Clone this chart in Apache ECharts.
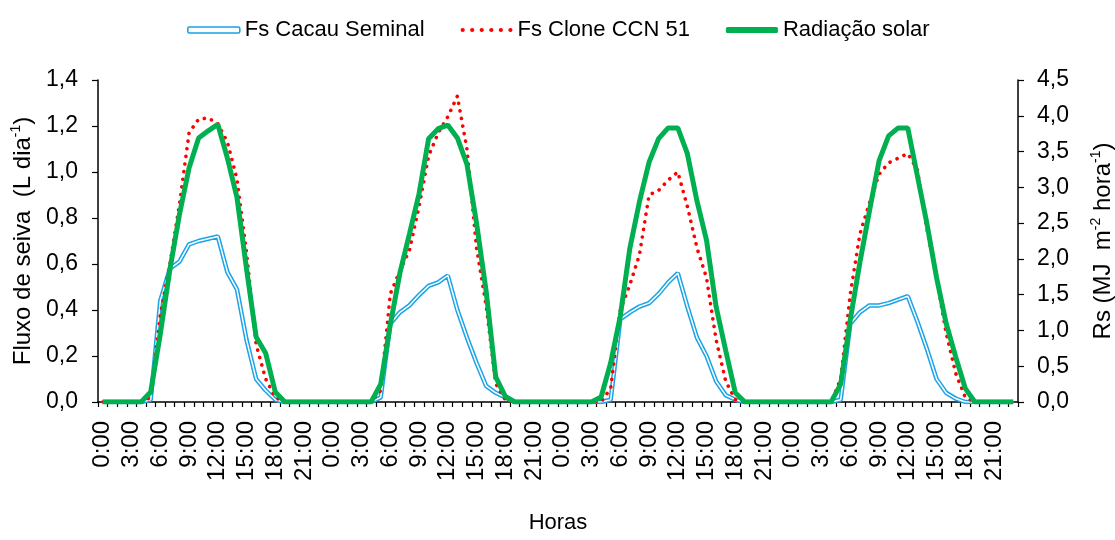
<!DOCTYPE html>
<html>
<head>
<meta charset="utf-8">
<title>Fluxo de seiva e radiação solar</title>
<script src="https://cdn.jsdelivr.net/npm/echarts@6/dist/echarts.min.js"></script>
<style>
  html, body { margin: 0; padding: 0; background: #fff; }
  #grafico { width: 1115px; height: 540px; }
</style>
</head>
<body>
<div id="grafico"></div>
<script>
// Horas do dia (rótulos do eixo X), repetidas para os 4 dias
var horasDia = ['0:00', '1:00', '2:00', '3:00', '4:00', '5:00', '6:00', '7:00',
  '8:00', '9:00', '10:00', '11:00', '12:00', '13:00', '14:00', '15:00',
  '16:00', '17:00', '18:00', '19:00', '20:00', '21:00', '22:00', '23:00'];
var categorias = horasDia.concat(horasDia, horasDia, horasDia);

// Fs Cacau Seminal (L dia-1) — eixo esquerdo
var fsSeminal = [
  0, 0, 0, 0, 0, 0.01, 0.44, 0.58, 0.61, 0.685, 0.70, 0.71, 0.72, 0.565, 0.49, 0.27, 0.10, 0.05, 0.01, 0, 0, 0, 0, 0,
  0, 0, 0, 0, 0, 0.02, 0.34, 0.39, 0.42, 0.465, 0.505, 0.52, 0.55, 0.40, 0.28, 0.17, 0.07, 0.04, 0.02, 0, 0, 0, 0, 0,
  0, 0, 0, 0, 0, 0.01, 0.36, 0.39, 0.415, 0.43, 0.47, 0.52, 0.56, 0.415, 0.28, 0.20, 0.09, 0.03, 0.01, 0, 0, 0, 0, 0,
  0, 0, 0, 0, 0, 0.01, 0.34, 0.39, 0.42, 0.42, 0.43, 0.445, 0.46, 0.35, 0.23, 0.10, 0.04, 0.015, 0, 0, 0, 0, 0, 0
];

// Fs Clone CCN 51 (L dia-1) — eixo esquerdo
var fsClone = [
  0, 0, 0, 0, 0, 0.02, 0.38, 0.60, 0.86, 1.17, 1.23, 1.235, 1.21, 1.13, 0.97, 0.65, 0.25, 0.10, 0.02, 0, 0, 0, 0, 0,
  0, 0, 0, 0, 0, 0.05, 0.47, 0.57, 0.66, 0.85, 1.07, 1.17, 1.24, 1.33, 1.10, 0.67, 0.42, 0.08, 0.01, 0, 0, 0, 0, 0,
  0, 0, 0, 0, 0, 0.06, 0.40, 0.51, 0.64, 0.90, 0.92, 0.965, 1.00, 0.85, 0.67, 0.54, 0.27, 0.09, 0.01, 0, 0, 0, 0, 0,
  0, 0, 0, 0, 0, 0.10, 0.47, 0.73, 0.865, 0.99, 1.04, 1.06, 1.08, 1.01, 0.75, 0.54, 0.30, 0.125, 0.02, 0, 0, 0, 0, 0
];

// Radiação solar Rs (MJ m-2 hora-1) — eixo direito
var radiacao = [
  0, 0, 0, 0, 0, 0.14, 0.95, 1.85, 2.62, 3.27, 3.69, 3.79, 3.88, 3.41, 2.86, 1.86, 0.91, 0.68, 0.14, 0, 0, 0, 0, 0,
  0, 0, 0, 0, 0, 0.25, 1.08, 1.80, 2.35, 2.91, 3.68, 3.82, 3.87, 3.69, 3.32, 2.50, 1.55, 0.35, 0.08, 0, 0, 0, 0, 0,
  0, 0, 0, 0, 0.07, 0.55, 1.20, 2.15, 2.80, 3.35, 3.68, 3.83, 3.83, 3.47, 2.81, 2.26, 1.33, 0.72, 0.13, 0, 0, 0, 0, 0,
  0, 0, 0, 0, 0, 0.25, 1.15, 1.95, 2.67, 3.37, 3.72, 3.83, 3.83, 3.16, 2.49, 1.74, 1.10, 0.63, 0.19, 0, 0, 0, 0, 0
];

var AZUL = '#1aa3e6';
var VERMELHO = '#ff0000';
var VERDE = '#00b050';
var FONTE = '"Liberation Sans", Arial, sans-serif';

// ícone pontilhado da legenda (6 pontos)
var ICONE_PONTOS = 'path://M0.5,3a2,2 0 1,0 4,0a2,2 0 1,0 -4,0z' +
  'M9.5,3a2,2 0 1,0 4,0a2,2 0 1,0 -4,0z' +
  'M18.5,3a2,2 0 1,0 4,0a2,2 0 1,0 -4,0z' +
  'M27.5,3a2,2 0 1,0 4,0a2,2 0 1,0 -4,0z' +
  'M36.5,3a2,2 0 1,0 4,0a2,2 0 1,0 -4,0z' +
  'M45.5,3a2,2 0 1,0 4,0a2,2 0 1,0 -4,0z';

// rótulos com vírgula decimal
function virgula(v) {
  return v.toFixed(1).replace('.', ',');
}

var richNome = {
  a: { fontFamily: FONTE, fontSize: 24, color: '#000', lineHeight: 28 },
  s: { fontFamily: FONTE, fontSize: 14, color: '#000', verticalAlign: 'top', lineHeight: 28 }
};

var chart = echarts.init(document.getElementById('grafico'), null, { renderer: 'canvas' });

var option = {
  animation: false,
  backgroundColor: '#fff',
  grid: { left: 98, right: 97, top: 80, bottom: 138, containLabel: false, outerBoundsMode: 'none' },
  legend: {
    left: 182,
    top: 14,
    itemWidth: 52,
    itemHeight: 6,
    itemGap: 36,
    textStyle: { fontFamily: FONTE, fontSize: 22, color: '#000' },
    data: [
      { name: 'Fs Cacau Seminal', icon: 'roundRect',
        itemStyle: { color: '#fff', borderColor: AZUL, borderWidth: 1.6 } },
      { name: 'Fs Clone CCN 51', icon: ICONE_PONTOS,
        itemStyle: { color: VERMELHO, borderWidth: 0 } },
      { name: 'Radiação solar', icon: 'roundRect',
        itemStyle: { color: VERDE, borderWidth: 0 } }
    ]
  },
  xAxis: {
    type: 'category',
    data: categorias,
    boundaryGap: true,
    name: 'Horas',
    nameLocation: 'middle',
    nameGap: 110,
    nameTextStyle: { fontFamily: FONTE, fontSize: 22, color: '#000' },
    axisLine: { lineStyle: { color: '#000', width: 1.5 } },
    axisTick: { show: true, interval: 0, length: 5, lineStyle: { color: '#000', width: 1.2 } },
    axisLabel: {
      interval: 2,
      rotate: 90,
      margin: 19,
      fontFamily: FONTE,
      fontSize: 24,
      color: '#000'
    },
    splitLine: { show: false }
  },
  yAxis: [
    {
      type: 'value',
      min: 0,
      max: 1.4,
      interval: 0.2,
      position: 'left',
      name: '{a|Fluxo de seiva  (L dia}{s|-1}{a|)}',
      nameLocation: 'middle',
      nameGap: 60,
      nameRotate: 90,
      nameTextStyle: { rich: richNome },
      axisLine: { show: true, lineStyle: { color: '#000', width: 1.5 } },
      axisTick: { show: true, length: 6, lineStyle: { color: '#000', width: 1.2 } },
      axisLabel: {
        margin: 20,
        fontFamily: FONTE,
        fontSize: 23,
        color: '#000',
        formatter: virgula
      },
      splitLine: { show: false }
    },
    {
      type: 'value',
      min: 0,
      max: 4.5,
      interval: 0.5,
      position: 'right',
      name: '{a|Rs (MJ  m}{s|-2}{a| hora}{s|-1}{a|)}',
      nameLocation: 'middle',
      nameGap: 71,
      nameRotate: 90,
      nameTextStyle: { rich: richNome },
      axisLine: { show: true, lineStyle: { color: '#000', width: 1.5 } },
      axisTick: { show: true, length: 6, lineStyle: { color: '#000', width: 1.2 } },
      axisLabel: {
        margin: 19,
        fontFamily: FONTE,
        fontSize: 23,
        color: '#000',
        formatter: virgula
      },
      splitLine: { show: false }
    }
  ],
  series: [
    {
      name: 'Fs Cacau Seminal',
      type: 'line',
      yAxisIndex: 0,
      data: fsSeminal,
      symbol: 'none',
      lineStyle: { color: AZUL, width: 4.5 },
      itemStyle: { color: AZUL },
      z: 2
    },
    {
      // miolo branco da linha dupla
      name: 'Fs Cacau Seminal (miolo)',
      type: 'line',
      yAxisIndex: 0,
      data: fsSeminal,
      symbol: 'none',
      silent: true,
      lineStyle: { color: '#fff', width: 1.5 },
      z: 3
    },
    {
      name: 'Fs Clone CCN 51',
      type: 'line',
      yAxisIndex: 0,
      data: fsClone,
      symbol: 'none',
      lineStyle: { color: VERMELHO, width: 3.6, type: [0.1, 7.6], cap: 'round' },
      itemStyle: { color: VERMELHO },
      z: 4
    },
    {
      name: 'Radiação solar',
      type: 'line',
      yAxisIndex: 1,
      data: radiacao,
      symbol: 'none',
      lineStyle: { color: VERDE, width: 5 },
      itemStyle: { color: VERDE },
      z: 5
    }
  ]
};

chart.setOption(option);
</script>
</body>
</html>
